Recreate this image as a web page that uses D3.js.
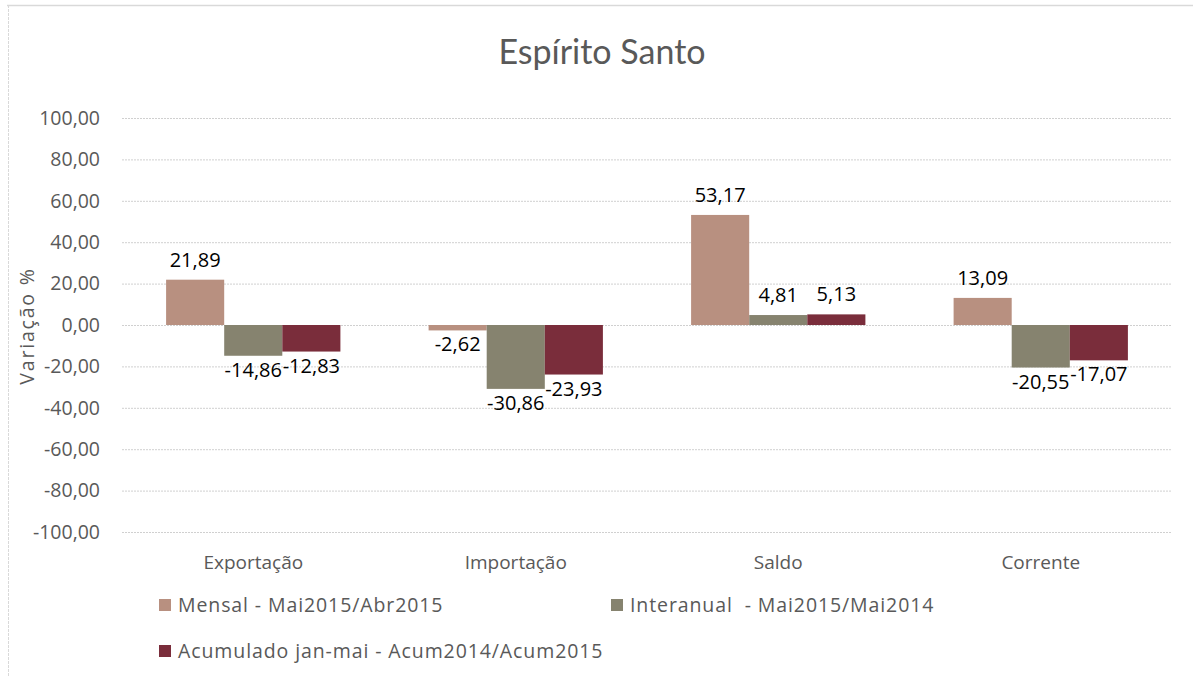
<!DOCTYPE html>
<html>
<head>
<meta charset="utf-8">
<script src="https://cdn.jsdelivr.net/npm/d3@7"></script>
<style>
  body { margin: 0; background: #fff; }
  svg { display: block; }
</style>
</head>
<body>
<script>
(function (d3) {
  "use strict";

  /***** Data *****/
  var categories = ["Exportação", "Importação", "Saldo", "Corrente"];
  var seriesNames = ["Mensal - Mai2015/Abr2015", "Interanual  - Mai2015/Mai2014", "Acumulado jan-mai - Acum2014/Acum2015"];
  var mensal = [21.89, -2.62, 53.17, 13.09];
  var interanual = [-14.86, -30.86, 4.81, -20.55];
  var acumulado = [-12.83, -23.93, 5.13, -17.07];
  var yTicks = [-100, -80, -60, -40, -20, 0, 20, 40, 60, 80, 100];
  var colors = ["#b89080", "#86836f", "#7a2d3b"];

  var series = [mensal, interanual, acumulado];
  var fmt = function (v) { return d3.format(".2f")(v).replace(".", ",").replace("\u2212", "-"); };
  var FONT = "'Open Sans', 'Noto Sans', sans-serif";

  /***** Configuration *****/
  var W = 1193, H = 677;
  var plot = { left: 122, right: 1172, top: 118, bottom: 532 };

  var svg = d3.select("body").append("svg")
    .attr("width", W)
    .attr("height", H);

  // chart frame (cut at the top / left of the screenshot)
  svg.append("line").attr("x1", 7).attr("x2", W).attr("y1", 5.5).attr("y2", 5.5)
    .attr("stroke", "#d9d9d9").attr("stroke-width", 1.5);
  svg.append("line").attr("x1", 8.5).attr("x2", 8.5).attr("y1", 5).attr("y2", H)
    .attr("stroke", "#d9d9d9").attr("stroke-dasharray", "3,1");

  /***** Scales *****/
  var x = d3.scaleBand().domain(categories).range([plot.left, plot.right]).paddingInner(0).paddingOuter(0);
  var groupWidth = x.bandwidth() * 0.664;
  var x1 = d3.scaleBand().domain(d3.range(series.length)).range([0, groupWidth]);
  var y = d3.scaleLinear().domain([-100, 100]).range([plot.bottom, plot.top]);

  /***** Gridlines and y axis *****/
  var yAxis = d3.axisLeft(y).tickValues(yTicks)
    .tickSize(-(plot.right - plot.left))
    .tickFormat(fmt)
    .tickPadding(22);

  var yG = svg.append("g").attr("transform", "translate(" + plot.left + ",0)").call(yAxis);
  yG.select(".domain").remove();
  yG.selectAll(".tick line").attr("stroke", "#d0d0d0").attr("stroke-dasharray", "2,1");
  yG.selectAll(".tick text")
    .attr("fill", "#595959")
    .style("font-family", FONT)
    .style("font-size", "19.5px");

  svg.append("text")
    .attr("transform", "translate(34," + (y(0) + 1) + ") rotate(-90)")
    .attr("text-anchor", "middle")
    .attr("fill", "#595959")
    .style("font-family", FONT)
    .style("font-size", "19.5px")
    .style("letter-spacing", "1.8px")
    .text("Variação %");

  /***** Bars *****/
  var groups = svg.selectAll("g.cat").data(categories).enter().append("g")
    .attr("class", "cat")
    .attr("transform", function (d) {
      return "translate(" + (x(d) + (x.bandwidth() - groupWidth) / 2) + ",0)";
    });

  groups.selectAll("rect").data(function (d, i) {
    return series.map(function (s, j) { return { s: j, v: s[i] }; });
  }).enter().append("rect")
    .attr("x", function (d) { return x1(d.s); })
    .attr("width", x1.bandwidth())
    .attr("y", function (d) { return y(Math.max(0, d.v)); })
    .attr("height", function (d) { return Math.abs(y(d.v) - y(0)); })
    .attr("fill", function (d) { return colors[d.s]; });

  groups.selectAll("text.val").data(function (d, i) {
    return series.map(function (s, j) { return { s: j, v: s[i] }; });
  }).enter().append("text")
    .attr("class", "val")
    .attr("x", function (d) { return x1(d.s) + x1.bandwidth() / 2; })
    .attr("y", function (d) { return d.v >= 0 ? y(d.v) - 13 : y(d.v) + 21; })
    .attr("text-anchor", "middle")
    .attr("fill", "#000")
    .style("font-family", FONT)
    .style("font-size", "20px")
    .text(function (d) { return fmt(d.v); });

  /***** Category labels *****/
  svg.selectAll("text.catlab").data(categories).enter().append("text")
    .attr("class", "catlab")
    .attr("x", function (d) { return x(d) + x.bandwidth() / 2; })
    .attr("y", 569)
    .attr("text-anchor", "middle")
    .attr("fill", "#595959")
    .style("font-family", FONT)
    .style("font-size", "19px")
    .text(function (d) { return d; });

  /***** Title *****/
  svg.append("text")
    .attr("x", 602).attr("y", 64)
    .attr("text-anchor", "middle")
    .attr("fill", "#595959")
    .style("font-family", "Lato, 'Open Sans', sans-serif")
    .style("font-size", "34px")
    .text("Espírito Santo");

  /***** Legend *****/
  var legendPos = [[159, 605], [611, 605], [159, 651]];
  var leg = svg.selectAll("g.leg").data(seriesNames).enter().append("g")
    .attr("class", "leg")
    .attr("transform", function (d, i) { return "translate(" + legendPos[i][0] + "," + legendPos[i][1] + ")"; });
  leg.append("rect").attr("x", 0).attr("y", -6).attr("width", 12).attr("height", 12)
    .attr("fill", function (d, i) { return colors[i]; });
  leg.append("text").attr("x", 19).attr("y", 7)
    .attr("fill", "#595959")
    .style("font-family", FONT)
    .style("font-size", "19.5px")
    .style("letter-spacing", "0.9px")
    .style("white-space", "pre")
    .text(function (d) { return d; });

})(d3);
</script>
</body>
</html>
